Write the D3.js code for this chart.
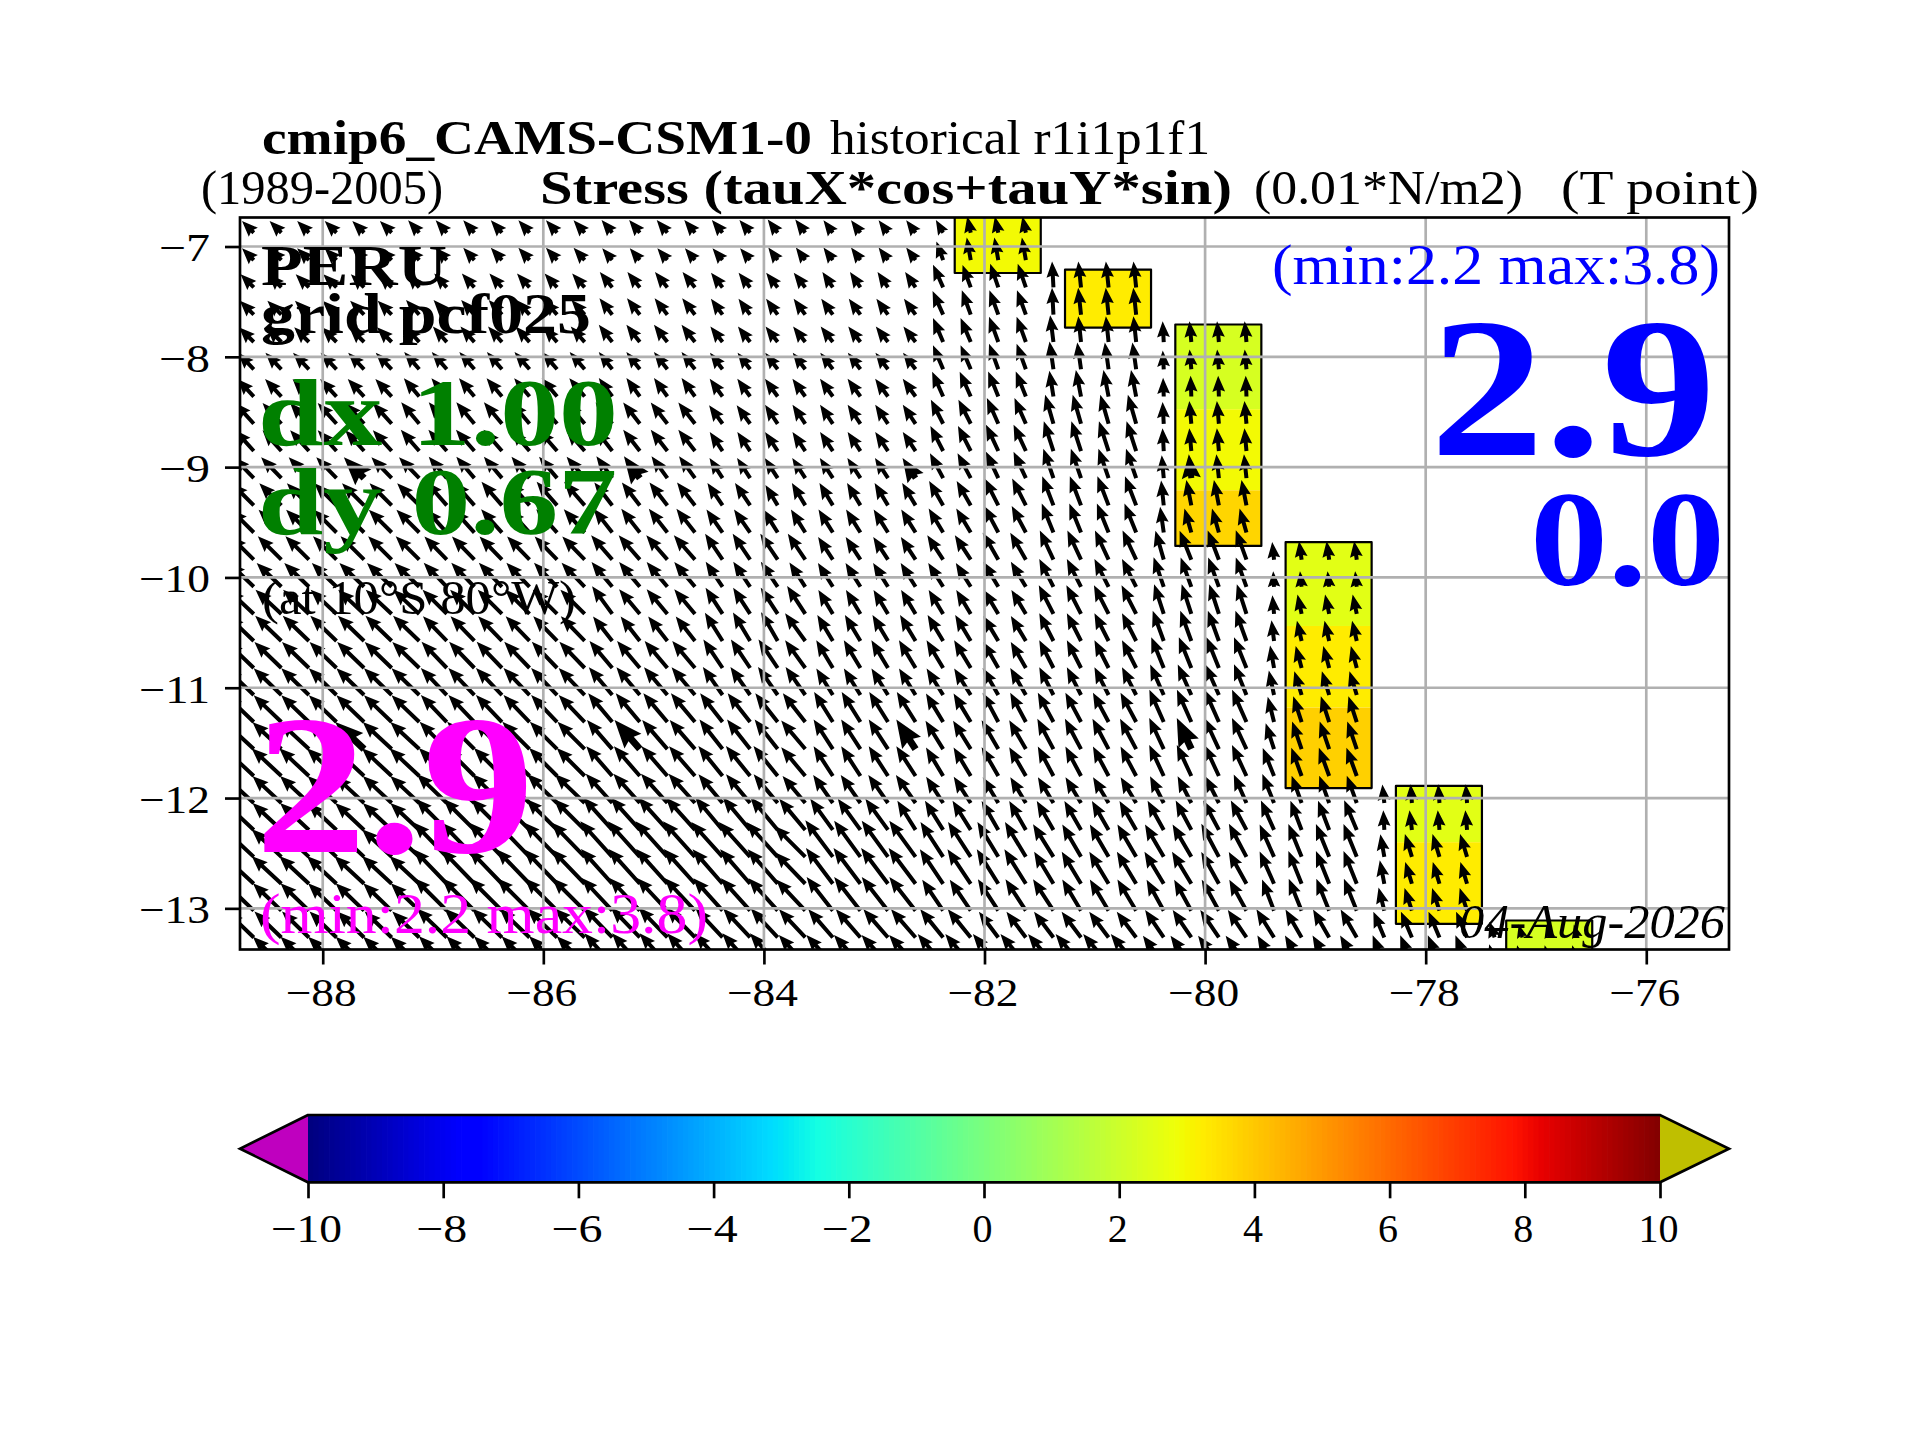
<!DOCTYPE html>
<html>
<head>
<meta charset="utf-8">
<script src="https://cdn.jsdelivr.net/npm/d3@7"></script>
<style>
body { margin: 0; background: #fff; }
text { font-family: "Liberation Serif", serif; }
</style>
</head>
<body>
<svg width="1920" height="1440"></svg>
<script>
// T point grid of the stress field (west to east, north to south)
var lons = [-88.625,-88.375,-88.125,-87.875,-87.625,-87.375,-87.125,-86.875,-86.625,-86.375,-86.125,-85.875,-85.625,-85.375,-85.125,-84.875,-84.625,-84.375,-84.125,-83.875,-83.625,-83.375,-83.125,-82.875,-82.625,-82.375,-82.125,-81.875,-81.625,-81.375,-81.125,-80.875,-80.625,-80.375,-80.125,-79.875,-79.625,-79.375,-79.125,-78.875,-78.625,-78.375,-78.125,-77.875,-77.625,-77.375,-77.125,-76.875,-76.625];
var lats = [-6.875,-7.123,-7.371,-7.618,-7.866,-8.113,-8.36,-8.607,-8.854,-9.1,-9.347,-9.593,-9.839,-10.085,-10.331,-10.576,-10.821,-11.066,-11.311,-11.556,-11.8,-12.045,-12.289,-12.533,-12.777,-13.021,-13.264,-13.507];

// stress magnitude per row, rows stop at the coast
var stress = [
[16,16,16,16,16,16,16,16,16,16,16,16,16,16,16,16,16,16,16,16,16,15,15,15,15,14,16,16,16],
[16,16,16,16,16,16,16,16,16,16,16,16,16,15,15,15,15,15,15,15,15,15,15,15,15,19,22,22,22],
[18,18,18,18,18,18,18,18,18,18,18,18,18,19,19,19,19,18,18,18,18,18,18,18,18,24,23,24,24,25,25,25,25],
[19,19,19,19,19,19,19,19,19,19,19,19,19,20,20,20,20,19,19,19,19,19,19,19,19,25,25,25,25,26,26,26,26],
[20,20,20,20,20,20,20,20,20,20,20,20,20,21,21,21,21,19,19,19,19,19,19,19,19,25,25,26,26,26,25,25,25,20,20,20,20],
[22,22,22,22,22,22,22,22,22,22,22,22,22,21,21,21,21,20,20,20,20,20,20,20,20,25,25,26,26,27,26,26,26,18,19,19,19],
[23,23,23,23,23,23,23,23,23,23,23,23,23,22,22,22,22,21,21,21,21,21,21,21,21,26,26,26,26,25,26,26,26,18,20,20,20],
[27,27,27,27,27,27,27,27,27,27,27,27,27,26,26,26,26,22,22,22,22,22,22,22,22,26,26,27,27,29,29,29,29,21,22,22,22],
[27,27,27,27,27,27,27,27,27,27,27,27,27,26,26,26,26,22,22,22,22,22,22,22,22,27,27,28,28,30,30,30,30,22,22,22,22],
[28,28,28,28,28,28,28,27,27,27,27,27,27,26,26,26,26,23,23,23,23,23,23,23,23,27,27,28,28,30,30,30,30,22,23,23,23],
[30,30,30,30,30,30,30,30,30,30,30,30,30,28,28,28,28,26,26,23,25,25,25,25,25,27,27,29,29,30,30,30,30,24,25,25,25],
[31,31,31,31,31,31,31,30,30,30,30,30,30,29,29,29,29,27,27,26,26,26,26,26,26,27,27,29,29,30,30,30,30,25,24,24,24],
[32,32,32,32,32,32,32,31,31,31,31,31,31,31,31,31,31,30,30,30,30,26,26,26,26,28,28,30,30,31,31,31,31,29,30,30,30,17,18,18,18],
[33,33,33,33,33,33,33,32,32,32,32,32,32,31,31,31,31,29,29,29,28,27,27,27,27,27,27,28,28,30,30,30,30,30,30,30,30,15,15,15,15],
[34,34,34,34,34,34,34,33,33,33,33,33,33,33,31,31,31,30,30,30,32,27,27,27,27,27,27,27,27,31,31,31,31,30,30,30,30,18,19,19,19],
[35,35,35,35,35,35,35,33,33,33,33,33,33,30,30,30,30,32,32,32,33,29,29,29,29,29,29,28,28,30,30,30,30,31,31,31,31,20,20,20,20],
[36,36,36,36,36,36,36,35,35,35,35,35,35,34,34,34,34,33,33,33,33,31,31,31,31,31,31,29,29,30,30,30,30,32,32,32,32,22,22,22,22],
[37,37,37,37,37,37,37,36,36,36,36,36,36,35,35,35,35,33,33,33,33,30,30,30,30,30,30,30,30,30,30,30,30,32,32,32,32,24,24,24,24],
[37,37,37,37,37,37,37,36,36,36,36,36,36,36,36,36,36,35,35,35,35,34,34,34,34,32,32,32,32,32,32,32,32,34,34,34,34,25,26,26,26],
[38,38,38,38,38,38,38,37,37,37,37,37,37,37,37,37,37,36,36,36,36,34,34,34,34,32,32,32,32,33,33,33,33,33,33,33,33,26,28,28,28],
[39,39,39,39,39,39,39,38,38,38,38,38,38,38,38,38,38,37,37,37,36,34,34,34,34,32,32,32,32,32,32,32,32,33,33,33,33,29,29,29,29],
[38,38,38,38,38,38,38,40,40,40,40,40,40,38,38,38,38,36,36,36,34,33,33,33,33,30,30,29,29,29,29,29,29,29,29,29,30,30,28,28,28,18,18,18,18],
[38,38,38,38,38,38,38,42,42,42,42,42,42,42,42,42,42,41,41,41,39,37,37,37,33,33,33,32,32,32,32,32,32,32,32,32,32,31,30,30,31,19,19,19,19],
[39,39,39,39,39,39,39,46,46,46,46,46,46,46,46,46,46,45,45,45,42,44,43,43,43,40,40,39,39,37,36,36,36,36,36,36,36,34,34,34,34,22,23,23,23],
[39,39,39,39,39,39,39,46,46,46,46,46,46,45,45,45,45,44,44,44,42,43,43,43,43,40,40,39,39,36,36,36,36,36,36,35,35,34,34,34,34,23,22,22,22],
[38,38,38,38,38,38,38,44,44,44,44,44,44,43,43,43,43,42,42,42,41,41,41,41,41,36,36,36,36,36,35,35,35,34,34,34,34,32,33,33,33,23,23,23,23],
[36,36,36,36,36,36,36,40,40,40,40,40,40,40,40,40,40,38,38,38,37,36,36,36,36,35,35,31,31,31,31,31,31,32,32,32,32,32,31,31,31,27,27,27,27,16,13,13,13],
[38,38,38,38,38,38,38,38,38,38,38,38,38,40,40,40,40,40,40,40,38,38,38,38,38,38,38,38,38,38,38,38,38,34,34,34,34,32,32,32,32,30,30,30,30,20,19,19,19]
];

// stress direction per row, degrees west of north
var heading = [
[45,45,45,45,45,45,42,42,42,42,42,42,42,40,40,40,40,40,40,37,37,37,37,37,37,30,12,12,12],
[45,45,45,45,45,45,42,42,42,42,42,42,42,40,40,40,40,40,40,37,37,37,37,37,37,20,10,10,10],
[45,45,45,45,45,45,42,42,42,42,42,42,42,39,39,39,39,38,38,38,38,34,34,34,34,24,20,19,19,3,6,6,6],
[45,45,45,45,45,45,42,42,42,42,42,42,42,38,38,38,38,36,36,36,36,36,36,36,36,24,20,20,20,3,6,6,6],
[45,45,45,45,45,45,42,42,42,42,42,42,42,38,38,38,38,38,38,38,38,38,38,38,38,23,23,20,20,7,6,6,6,3,5,5,5],
[44,44,44,44,44,44,41,41,41,41,41,41,41,38,38,38,38,37,37,37,37,37,37,37,37,23,23,20,20,8,8,8,8,3,5,5,5],
[43,43,43,43,43,43,40,40,40,40,40,40,40,36,36,36,36,36,36,36,36,36,36,36,36,24,24,22,22,9,11,11,11,2,2,2,2],
[42,42,42,42,42,42,40,40,40,40,40,40,40,38,38,38,38,36,36,34,34,34,34,34,34,27,27,24,24,16,16,16,16,3,5,5,5],
[42,42,42,42,42,42,41,41,41,41,41,41,41,38,38,38,38,34,34,34,34,34,34,34,34,27,27,25,25,18,18,18,18,3,5,5,5],
[44,44,44,44,44,44,44,40,40,40,40,40,40,36,36,36,36,33,33,33,33,33,33,33,33,28,28,25,25,19,19,19,19,5,6,6,6],
[45,45,45,45,45,45,45,41,41,41,41,41,41,38,38,38,38,34,34,31,31,31,31,31,31,30,30,27,27,21,21,21,21,6,11,11,11],
[45,45,45,45,45,45,45,42,42,42,42,42,42,38,38,38,38,35,35,32,32,32,32,32,32,31,31,28,28,22,22,22,22,8,16,16,16],
[45,45,45,45,45,45,45,44,44,44,44,44,44,41,41,41,41,34,34,34,34,33,33,33,33,33,33,30,30,25,25,25,25,16,22,21,20,6,8,8,8],
[46,46,46,46,46,46,46,44,44,44,44,44,44,40,40,40,40,34,34,34,33,32,32,32,32,32,32,31,31,27,27,27,27,19,20,20,20,3,6,6,6],
[47,47,47,47,47,47,47,45,45,45,45,45,45,36,40,40,40,33,33,33,33,31,31,31,31,31,31,31,31,27,27,27,27,18,18,18,18,5,12,12,12],
[46,46,46,46,46,46,46,44,44,44,44,44,44,38,38,38,38,32,31,30,36,31,31,31,31,31,31,31,31,27,27,27,27,20,20,20,20,7,13,13,13],
[46,46,46,46,46,46,46,44,44,44,44,44,44,40,40,40,40,34,34,34,36,31,31,31,31,31,31,30,30,27,27,27,27,22,22,22,22,10,15,15,15],
[46,46,46,46,46,46,46,44,44,44,44,44,44,40,40,40,40,35,35,35,35,32,32,32,32,32,32,30,30,27,27,27,27,24,24,24,22,12,17,17,17],
[46,46,46,46,46,46,46,44,44,44,44,44,44,40,40,40,40,38,38,38,38,32,32,32,32,31,31,28,28,28,28,28,28,24,24,24,24,14,18,18,18],
[47,47,47,47,47,47,47,45,45,45,45,45,45,41,41,41,41,38,38,38,40,33,33,33,33,32,32,30,30,28,28,28,28,25,25,25,25,18,19,19,19],
[47,47,47,47,47,47,47,45,45,45,45,45,45,41,41,41,41,39,39,39,40,33,33,33,33,31,31,30,30,28,28,28,28,25,25,25,25,22,20,20,20],
[47,47,47,47,47,47,47,46,46,46,46,46,46,42,42,42,42,40,40,40,40,35,35,35,35,33,33,31,31,31,31,31,31,27,27,27,24,22,20,20,20,6,4,4,4],
[47,47,47,47,47,47,47,45,45,45,45,45,45,42,42,42,42,40,40,40,40,36,36,36,32,32,32,30,30,30,30,30,30,29,28,28,28,24,21,21,23,3,7,5,5],
[47,47,47,47,47,47,47,44,44,44,44,44,44,42,42,42,42,42,42,42,45,37,36,36,36,33,33,31,31,32,30,30,30,30,30,28,28,24,22,22,22,10,17,17,17],
[47,47,47,47,47,47,47,44,44,44,44,44,44,42,42,42,42,41,41,41,44,37,37,37,37,34,34,32,32,31,31,31,31,31,31,29,29,24,22,22,22,11,17,17,17],
[46,46,46,46,46,46,46,45,45,45,45,45,45,43,43,43,43,42,42,42,43,38,38,38,38,34,34,33,33,33,31,31,31,29,29,29,29,21,22,22,22,14,18,18,18],
[46,46,46,46,46,46,46,46,46,46,46,46,46,44,44,44,44,43,43,43,43,41,41,41,41,39,39,37,37,37,37,37,37,34,34,34,34,32,30,30,30,23,23,23,23,18,15,15,15],
[46,46,46,46,46,46,46,45,45,45,45,45,45,42,42,42,42,42,42,42,42,42,42,42,42,40,40,40,40,40,40,40,40,36,36,36,36,30,30,30,30,22,22,22,22,15,15,15,15]
];

// every 10th point is drawn heavier
var heavyCols = [4, 14, 24, 34];
var heavyRows = [9, 19];

// land boxes: the coloured coastal cells
var boxWest = [-82.27, -81.27, -80.27, -79.27, -78.27, -77.27];
var boxEast = [-81.49, -80.49, -79.49, -78.49, -77.49, -76.49];
var cellBox = [0, 1, 2, 2, 2, 3, 3, 3, 4, 4, 5];
var cellNorth = [-6.6, -7.21, -7.707, -8.475, -9.21, -9.68, -10.44, -11.18, -11.89, -12.4, -13.11];
var cellSouth = [-7.24, -7.735, -8.475, -9.21, -9.714, -10.44, -11.18, -11.91, -12.4, -13.14, -13.5];
var cellValue = [2.9, 3.2, 2.2, 2.9, 3.7, 2.5, 3.2, 3.8, 2.5, 3.2, 2.2];

var xTicks = [-88, -86, -84, -82, -80, -78, -76];
var yTicks = [-7, -8, -9, -10, -11, -12, -13];
var barTicks = [-10, -8, -6, -4, -2, 0, 2, 4, 6, 8, 10];

var svg = d3.select("svg");

var left = 240, right = 1729, top_ = 217.5, bottom = 949.5;
var xScale = d3.scaleLinear().domain([-88.75, -75.25]).range([left, right]);
var yScale = d3.scaleLinear().domain([-6.737, -13.373]).range([top_, bottom]);
var lengthScale = d3.scaleLinear().domain([0, 50]).range([0, 52]);

// matplotlib jet
var tOf = d3.scaleLinear().domain([-10, 10]).range([0, 1]);
var red = d3.scaleLinear().domain([0, 0.35, 0.66, 0.89, 1]).range([0, 0, 1, 1, 0.5]);
var green = d3.scaleLinear().domain([0, 0.125, 0.375, 0.64, 0.91, 1]).range([0, 0, 1, 1, 0, 0]);
var blue = d3.scaleLinear().domain([0, 0.11, 0.34, 0.65, 1]).range([0.5, 1, 1, 0, 0]);
function jet(v) {
  var t = tOf(v);
  return d3.rgb(red(t) * 255, green(t) * 255, blue(t) * 255).formatHex();
}

svg.append("clipPath").attr("id", "plot")
  .append("rect")
  .attr("x", left).attr("y", top_)
  .attr("width", right - left).attr("height", bottom - top_);

var map = svg.append("g").attr("clip-path", "url(#plot)");

// coloured cells with their outline
map.selectAll(".cell")
  .data(cellValue)
  .enter()
  .append("rect")
  .attr("class", "cell")
  .attr("x", (d, i) => xScale(boxWest[cellBox[i]]))
  .attr("width", (d, i) => xScale(boxEast[cellBox[i]]) - xScale(boxWest[cellBox[i]]))
  .attr("y", (d, i) => yScale(cellNorth[i]))
  .attr("height", (d, i) => yScale(cellSouth[i]) - yScale(cellNorth[i]))
  .attr("fill", d => jet(d));

map.selectAll(".box")
  .data(boxWest)
  .enter()
  .append("rect")
  .attr("class", "box")
  .attr("x", d => xScale(d))
  .attr("width", (d, i) => xScale(boxEast[i]) - xScale(d))
  .attr("y", (d, i) => yScale(d3.max(cellNorth.filter((c, n) => cellBox[n] == i))))
  .attr("height", (d, i) => yScale(d3.min(cellSouth.filter((c, n) => cellBox[n] == i))) - yScale(d3.max(cellNorth.filter((c, n) => cellBox[n] == i))))
  .attr("fill", "none")
  .attr("stroke", "#000")
  .attr("stroke-width", 2.2)
  .attr("stroke-linejoin", "round");

// quiver style arrow, pointing up from its tail at 0,0
function arrowPath(len, w) {
  if (len < 4 * w) w = len / 4; // short arrows shrink as a whole
  var pts = [[-w / 2, 0], [-w / 2, -(len - 3.6 * w)], [-1.6 * w, -(len - 4 * w)], [0, -len],
             [1.6 * w, -(len - 4 * w)], [w / 2, -(len - 3.6 * w)], [w / 2, 0]];
  return "M" + pts.join("L") + "Z";
}

stress.forEach(function(row, j) {
  map.selectAll(".arrow" + j)
    .data(row)
    .enter()
    .append("path")
    .attr("class", "arrow" + j)
    .attr("d", function(d, k) {
      var heavy = heavyRows.includes(j) && heavyCols.includes(k);
      return arrowPath(lengthScale(d), heavy ? 7 : 4);
    })
    .attr("transform", (d, k) => "translate(" + xScale(lons[k]) + "," + yScale(lats[j]) + ") rotate(" + (-heading[j][k]) + ")")
    .attr("fill", "#000");
});

// grid sits on top of the arrows
var grid = svg.append("g").attr("clip-path", "url(#plot)");
grid.selectAll(".gx").data(xTicks).enter().append("line")
  .attr("x1", d => xScale(d)).attr("x2", d => xScale(d))
  .attr("y1", top_).attr("y2", bottom)
  .attr("stroke", "#b0b0b0").attr("stroke-width", 2.67);
grid.selectAll(".gy").data(yTicks).enter().append("line")
  .attr("y1", d => yScale(d)).attr("y2", d => yScale(d))
  .attr("x1", left).attr("x2", right)
  .attr("stroke", "#b0b0b0").attr("stroke-width", 2.67);

svg.append("rect")
  .attr("x", left).attr("y", top_)
  .attr("width", right - left).attr("height", bottom - top_)
  .attr("fill", "none").attr("stroke", "#000").attr("stroke-width", 2.67);

// width of a tick label in the reference face
function tickWidth(v) {
  return (v < 0 ? 31 : 0) + String(Math.abs(v)).length * 20;
}
function styleAxis(g) {
  g.select(".domain").remove();
  g.selectAll("line").attr("stroke", "#000").attr("stroke-width", 2.67);
  g.selectAll("text")
    .attr("fill", "#000")
    .attr("font-size", 40)
    .attr("textLength", d => tickWidth(d))
    .attr("lengthAdjust", "spacingAndGlyphs");
}

svg.append("g")
  .attr("transform", "translate(0," + bottom + ")")
  .call(d3.axisBottom(xScale).tickValues(xTicks).tickSize(15))
  .call(styleAxis)
  .selectAll("text").attr("x", -2).attr("y", 56.5).attr("dy", 0);

svg.append("g")
  .attr("transform", "translate(" + left + ",0)")
  .call(d3.axisLeft(yScale).tickValues(yTicks).tickSize(15).tickFormat(d3.format("d")))
  .call(styleAxis)
  .selectAll("text").attr("x", -30).attr("dy", "0.36em");

// colour bar
var barX = d3.scaleLinear().domain([-10, 10]).range([308, 1660]);
var barTop = 1115, barBottom = 1182.3, barMid = 1148.7;
var barLevels = d3.range(-10, 10, 20 / 256);

svg.selectAll(".level")
  .data(barLevels)
  .enter()
  .append("rect")
  .attr("class", "level")
  .attr("x", d => barX(d))
  .attr("y", barTop)
  .attr("width", 6)
  .attr("height", barBottom - barTop)
  .attr("fill", d => jet(d));

svg.append("path")
  .attr("d", "M308," + barTop + "L240," + barMid + "L308," + barBottom + "Z")
  .attr("fill", "#bf00bf");
svg.append("path")
  .attr("d", "M1660," + barTop + "L1729," + barMid + "L1660," + barBottom + "Z")
  .attr("fill", "#bfbf00");
svg.append("path")
  .attr("d", "M308," + barTop + "L240," + barMid + "L308," + barBottom + "L1660," + barBottom + "L1729," + barMid + "L1660," + barTop + "Z")
  .attr("fill", "none").attr("stroke", "#000").attr("stroke-width", 2.67);

svg.append("g")
  .attr("transform", "translate(0," + barBottom + ")")
  .call(d3.axisBottom(barX).tickValues(barTicks).tickSize(16))
  .call(styleAxis)
  .selectAll("text").attr("x", -2).attr("y", 59.5).attr("dy", 0);

// all text squeezed to the width it has in the reference
function label(str, x0, x1, y, size, color, style) {
  svg.append("text")
    .attr("x", x0).attr("y", y)
    .attr("font-size", size)
    .attr("fill", color || "#000")
    .attr("font-weight", style == "bold" ? "bold" : "normal")
    .attr("font-style", style == "italic" ? "italic" : "normal")
    .attr("textLength", x1 - x0)
    .attr("lengthAdjust", "spacingAndGlyphs")
    .text(str);
}

label("cmip6_CAMS-CSM1-0", 262, 812, 153.5, 48, "#000", "bold");
label("historical r1i1p1f1", 830, 1210, 153.5, 48);
label("(1989-2005)", 201, 443, 204, 48);
label("Stress (tauX*cos+tauY*sin)", 540, 1232, 204, 48, "#000", "bold");
label("(0.01*N/m2)", 1254, 1523, 204, 48);
label("(T point)", 1561, 1759, 204, 48);

label("PERU", 261, 447, 285, 58, "#000", "bold");
label("grid pcf025", 261, 591, 333, 58, "#000", "bold");
label("dx 1.00", 258, 618, 445, 96, "green", "bold");
label("dy 0.67", 258, 617, 534, 96, "green", "bold");
label("(at 10°S 80°W)", 262, 576, 614, 48);
label("2.9", 255, 534, 852, 200, "#ff00ff", "bold");
label("(min:2.2 max:3.8)", 260, 708, 933, 58, "#ff00ff");

label("(min:2.2 max:3.8)", 1272, 1720, 284, 58, "#0000ff");
label("2.9", 1430, 1716, 455, 200, "#0000ff", "bold");
label("0.0", 1530, 1725, 585, 135, "#0000ff", "bold");
label("04-Aug-2026", 1459, 1725, 938, 48, "#000", "italic");
</script>
</body>
</html>
